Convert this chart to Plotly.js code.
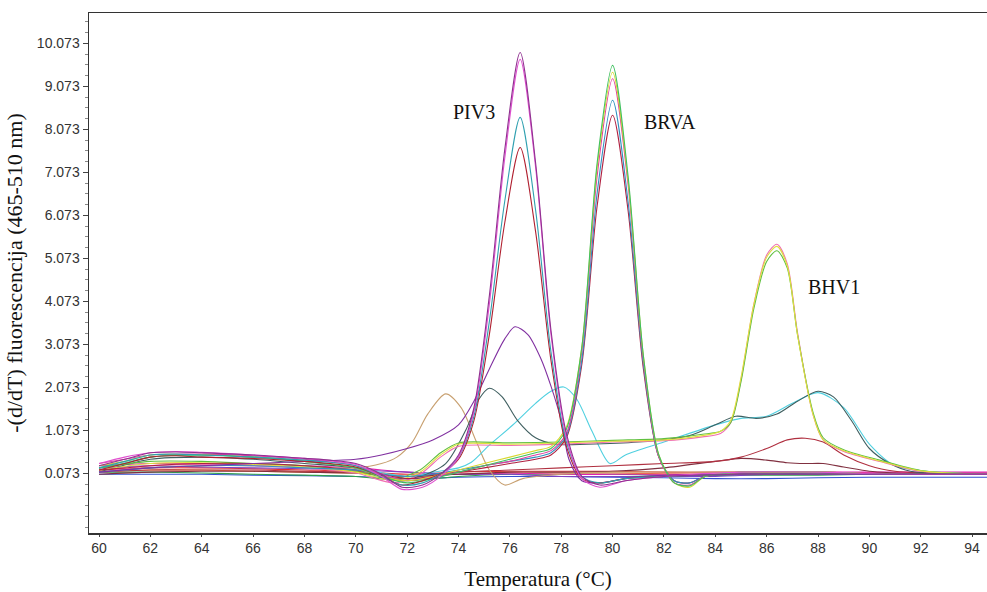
<!DOCTYPE html>
<html>
<head>
<meta charset="utf-8">
<script src="https://cdn.plot.ly/plotly-3.0.1.min.js"></script>
<style>html,body{margin:0;padding:0;background:#fff;}#chart{width:987px;height:592px;}</style>
</head>
<body>
<div id="chart"></div>
<script>
// ---- Data ----
const yTickVals = [0.073, 1.073, 2.073, 3.073, 4.073, 5.073, 6.073, 7.073, 8.073, 9.073, 10.073];
const yTickText = ["0.073", "1.073", "2.073", "3.073", "4.073", "5.073", "6.073", "7.073", "8.073", "9.073", "10.073"];

// PIV3 group
const xPIV = [60, 61, 62, 63, 64, 66, 68, 69, 70, 71, 71.8, 72.6, 73.4, 74, 74.6, 75.2, 75.8, 76.4, 77, 77.6, 78.2, 78.8, 79.5, 80.5, 82, 85, 88, 91, 94.6];
const piv3Purple = [0.25,0.4,0.55,0.57,0.55,0.5,0.42,0.38,0.3,0.05,-0.25,-0.2,0.1,0.5,1.6,4.2,7.6,9.86,7.3,3.4,1.0,0.0,-0.2,-0.1,0.0,0.05,0.05,0.05,0.05];
const piv3Pink = [0.3,0.45,0.55,0.58,0.56,0.5,0.42,0.36,0.28,0.0,-0.3,-0.25,0.05,0.45,1.5,4.0,7.4,9.7,7.2,3.3,0.9,-0.05,-0.25,-0.1,0.0,0.1,0.1,0.05,0.05];
const piv3Teal = [0.2,0.35,0.5,0.52,0.5,0.45,0.38,0.33,0.25,0.0,-0.2,-0.15,0.1,0.45,1.4,3.6,6.4,8.35,6.2,2.9,0.8,0.0,-0.15,-0.05,0.0,0.05,0.05,0.05,0.05];
const piv3Red = [0.15,0.3,0.45,0.48,0.45,0.42,0.35,0.3,0.22,0.0,-0.2,-0.1,0.1,0.4,1.3,3.3,5.9,7.65,5.7,2.7,0.7,-0.05,-0.15,-0.05,0.0,0.05,0.05,0.05,0.05];

const xBroad = [60,62,64,66,68,70,71,72,73,74,74.6,75.2,75.8,76.2,76.7,77.2,77.6,78,78.3,78.8,79.5,81,85,88,91,94.6];
const piv3Broad = [0.1,0.2,0.25,0.3,0.35,0.4,0.5,0.65,0.85,1.2,1.75,2.5,3.2,3.48,3.3,2.75,2.1,1.3,0.4,-0.1,-0.15,0.0,0.05,0.05,0.05,0.05];

// BRVA group
const xBRVA = [60,61,62,64,66,68,70,71,72,73,74,75,76,77,77.6,78.2,78.8,79.4,80,80.6,81.2,81.8,82.4,83,83.6,85,88,91,94.6];
const brvaGreen = [0.2,0.3,0.45,0.5,0.45,0.35,0.2,0.0,-0.15,-0.05,0.1,0.25,0.4,0.55,0.65,1.1,3.0,7.3,9.56,7.0,2.8,0.5,-0.15,-0.22,0.0,0.1,0.1,0.05,0.05];
const brvaYellow = [0.25,0.35,0.5,0.5,0.45,0.35,0.2,0.0,-0.1,0.0,0.15,0.3,0.45,0.6,0.7,1.15,3.0,7.2,9.4,6.9,2.8,0.5,-0.15,-0.25,0.0,0.1,0.1,0.05,0.05];
const brvaPink = [0.3,0.4,0.5,0.52,0.48,0.4,0.25,0.05,-0.1,0.0,0.1,0.25,0.35,0.5,0.6,1.0,2.9,7.0,9.25,6.8,2.7,0.45,-0.15,-0.2,0.0,0.1,0.1,0.05,0.05];
const brvaBlue = [0.1,0.15,0.2,0.25,0.25,0.2,0.15,0.05,0.0,0.05,0.15,0.25,0.35,0.45,0.55,0.95,2.7,6.6,8.75,6.4,2.6,0.45,-0.1,-0.15,0.0,0.05,0.05,0.05,0.05];
const brvaRed = [0.15,0.2,0.25,0.3,0.3,0.25,0.15,0.05,-0.05,0.0,0.1,0.2,0.3,0.4,0.5,0.9,2.6,6.3,8.4,6.2,2.5,0.45,-0.1,-0.15,0.0,0.05,0.05,0.05,0.05];

// BHV1 group
const xBHV = [60,62,64,66,68,70,71.5,72.5,73.3,74,76,78,80,82,83.5,84.2,84.6,85,85.5,86,86.4,86.8,87.2,87.8,88.2,89,90.4,92,94.6];
const bhvYellow = [0.15,0.3,0.32,0.28,0.22,0.1,-0.1,0.1,0.5,0.75,0.75,0.78,0.82,0.85,0.95,1.05,1.3,2.3,4.0,5.1,5.35,4.9,3.3,1.45,0.85,0.6,0.36,0.13,0.05];
const bhvGreen = [0.2,0.35,0.35,0.3,0.25,0.12,-0.05,0.15,0.55,0.78,0.78,0.8,0.84,0.88,0.98,1.05,1.25,2.2,3.9,5.0,5.25,4.85,3.3,1.5,0.9,0.62,0.38,0.14,0.05];
const bhvPink = [0.1,0.25,0.28,0.25,0.2,0.08,-0.15,0.05,0.45,0.7,0.72,0.75,0.8,0.83,0.92,1.0,1.25,2.25,4.0,5.15,5.4,4.95,3.35,1.45,0.85,0.58,0.35,0.12,0.05];

// Double-peak curve (75 °C and 88 °C)
const xDual = [60,62,64,66,68,70,71.5,72.5,73.5,74.3,74.8,75.2,75.7,76.3,77,77.8,79,81,83,84,84.8,85.6,86.4,87.2,88,88.6,89.3,90,90.8,91.6,94.6];
const dualGray = [0.1,0.4,0.45,0.4,0.3,0.2,-0.05,0.0,0.3,1.1,1.8,2.05,1.85,1.3,0.9,0.75,0.75,0.8,0.95,1.2,1.4,1.35,1.45,1.75,1.98,1.85,1.3,0.65,0.3,0.12,0.05];

// Cyan curve (78 °C and 88 °C)
const xCyan = [60,62,64,66,68,70,72,73,74,74.5,75.2,76.1,77,77.6,78.1,78.6,79.2,79.9,80.5,82,84,85,86,87,88,89,90,91,94.6];
const cyanVals = [0.15,0.45,0.5,0.45,0.35,0.2,0.0,0.1,0.2,0.33,0.73,1.19,1.7,1.98,2.08,1.8,1.05,0.3,0.5,0.8,1.2,1.35,1.4,1.7,1.95,1.6,0.75,0.25,0.05];

// Tan curve (73.5 °C)
const xTan = [60,62,64,66,68,70,71,71.6,72.2,72.8,73.5,74.1,74.7,75.2,75.8,76.5,78,80,84,88,91,94.6];
const tanVals = [0.1,0.2,0.25,0.25,0.22,0.2,0.3,0.45,0.8,1.45,1.92,1.6,0.8,0.15,-0.2,-0.05,0.05,0.1,0.1,0.1,0.05,0.05];

// Small bumps near 85-88 °C
const xBump = [60,62,64,66,68,70,72,74,76,78,80,82,84,85,86,86.8,87.5,88.2,89,90,91,92,94.6];
const bumpRed = [0.1,0.15,0.15,0.15,0.12,0.1,0.0,0.1,0.15,0.2,0.25,0.3,0.35,0.45,0.65,0.85,0.89,0.8,0.5,0.25,0.12,0.08,0.05];
const bumpMaroon = [0.05,0.1,0.12,0.12,0.1,0.08,0.0,0.05,0.1,0.1,0.12,0.2,0.35,0.42,0.38,0.32,0.3,0.3,0.22,0.12,0.08,0.05,0.05];

// Flat (negative) curves
const xFlat = [60,62,64,66,68,70,72,74,76,78,80,82,84,86,88,90,92,94.6];
const flatBlue = [0.05,0.05,0.05,0.03,0.02,0.0,-0.05,-0.02,0.0,0.0,-0.02,-0.03,-0.05,-0.05,-0.03,-0.02,-0.02,-0.02];
const flatRed = [0.15,0.2,0.2,0.18,0.15,0.12,0.05,0.1,0.12,0.12,0.12,0.1,0.1,0.1,0.1,0.08,0.08,0.08];
const flatGreen = [0.1,0.1,0.08,0.05,0.03,0.0,-0.1,0.0,0.05,0.05,0.05,0.03,0.03,0.03,0.03,0.05,0.05,0.05];
const flatOrange = [0.12,0.15,0.15,0.12,0.1,0.08,0.0,0.05,0.08,0.08,0.08,0.06,0.05,0.05,0.05,0.05,0.05,0.05];
const flatMagenta = [0.25,0.3,0.3,0.28,0.25,0.2,0.1,0.05,0.08,0.05,0.05,0.05,0.05,0.08,0.1,0.1,0.1,0.1];
const flatPurple = [0.2,0.25,0.22,0.2,0.18,0.15,0.1,0.05,0.05,0.0,0.0,0.0,0.0,0.05,0.08,0.05,0.05,0.05];

const labels = ["PIV3", "BRVA", "BHV1"];
const labelX = [74.62, 82.23, 88.64];
const labelY = [8.47, 8.24, 4.4];

// ---- Traces ----
const series = [
  [xFlat, flatBlue, "#3050d0"],
  [xFlat, flatRed, "#e03030"],
  [xFlat, flatGreen, "#30a050"],
  [xFlat, flatOrange, "#f08030"],
  [xFlat, flatMagenta, "#e020b0"],
  [xFlat, flatPurple, "#8040c0"],
  [xBump, bumpMaroon, "#803040"],
  [xBump, bumpRed, "#b03040"],
  [xTan, tanVals, "#c8a070"],
  [xCyan, cyanVals, "#50d0e0"],
  [xDual, dualGray, "#3f5f60"],
  [xBHV, bhvPink, "#f070b0"],
  [xBHV, bhvGreen, "#60c040"],
  [xBHV, bhvYellow, "#e0e040"],
  [xBRVA, brvaRed, "#b02040"],
  [xBRVA, brvaBlue, "#3090c0"],
  [xBRVA, brvaPink, "#e040a0"],
  [xBRVA, brvaYellow, "#d8d830"],
  [xBRVA, brvaGreen, "#40c060"],
  [xBroad, piv3Broad, "#8030a0"],
  [xPIV, piv3Red, "#b02030"],
  [xPIV, piv3Teal, "#30a0b0"],
  [xPIV, piv3Pink, "#e050d0"],
  [xPIV, piv3Purple, "#903090"]
];

const traces = series.map(s => ({
  x: s[0], y: s[1], type: "scatter", mode: "lines",
  line: {color: s[2], width: 1.1, shape: "spline", smoothing: 0.8},
  hoverinfo: "skip", showlegend: false
}));

const serif = "Liberation Serif, Times New Roman, serif";
const sans = "Liberation Sans, Arial, sans-serif";

const annotations = labels.map((t, i) => ({
  x: labelX[i], y: labelY[i], xref: "x", yref: "y", text: t, showarrow: false,
  font: {family: serif, size: 20, color: "#111"}
}));

const layout = {
  width: 987, height: 592,
  margin: {l: 89, r: 0, t: 13, b: 59},
  paper_bgcolor: "#ffffff", plot_bgcolor: "#ffffff",
  showlegend: false,
  xaxis: {
    range: [59.61, 94.58], tick0: 60, dtick: 2, ticks: "outside", ticklen: 2,
    tickcolor: "#444", showgrid: false, zeroline: false,
    showline: true, linecolor: "#333", linewidth: 1.5, mirror: true,
    tickfont: {family: sans, size: 14, color: "#333"},
    title: {text: "Temperatura (°C)", standoff: 16,
      font: {family: serif, size: 21, color: "#111"}}
  },
  yaxis: {
    range: [-1.315, 10.778], tickvals: yTickVals, ticktext: yTickText,
    ticks: "outside", ticklen: 5, tickcolor: "#444",
    minor: {dtick: 0.25, tick0: 0.073, ticks: "outside", ticklen: 3, tickcolor: "#888"},
    showgrid: false, zeroline: false,
    showline: true, linecolor: "#333", linewidth: 1.5,
    tickfont: {family: sans, size: 14, color: "#333"},
    title: {text: "-(d/dT) fluorescencija (465-510 nm)", standoff: 8,
      font: {family: serif, size: 22, color: "#111"}}
  },
  annotations: annotations
};

Plotly.newPlot("chart", traces, layout, {staticPlot: true, displayModeBar: false});
</script>
</body>
</html>
